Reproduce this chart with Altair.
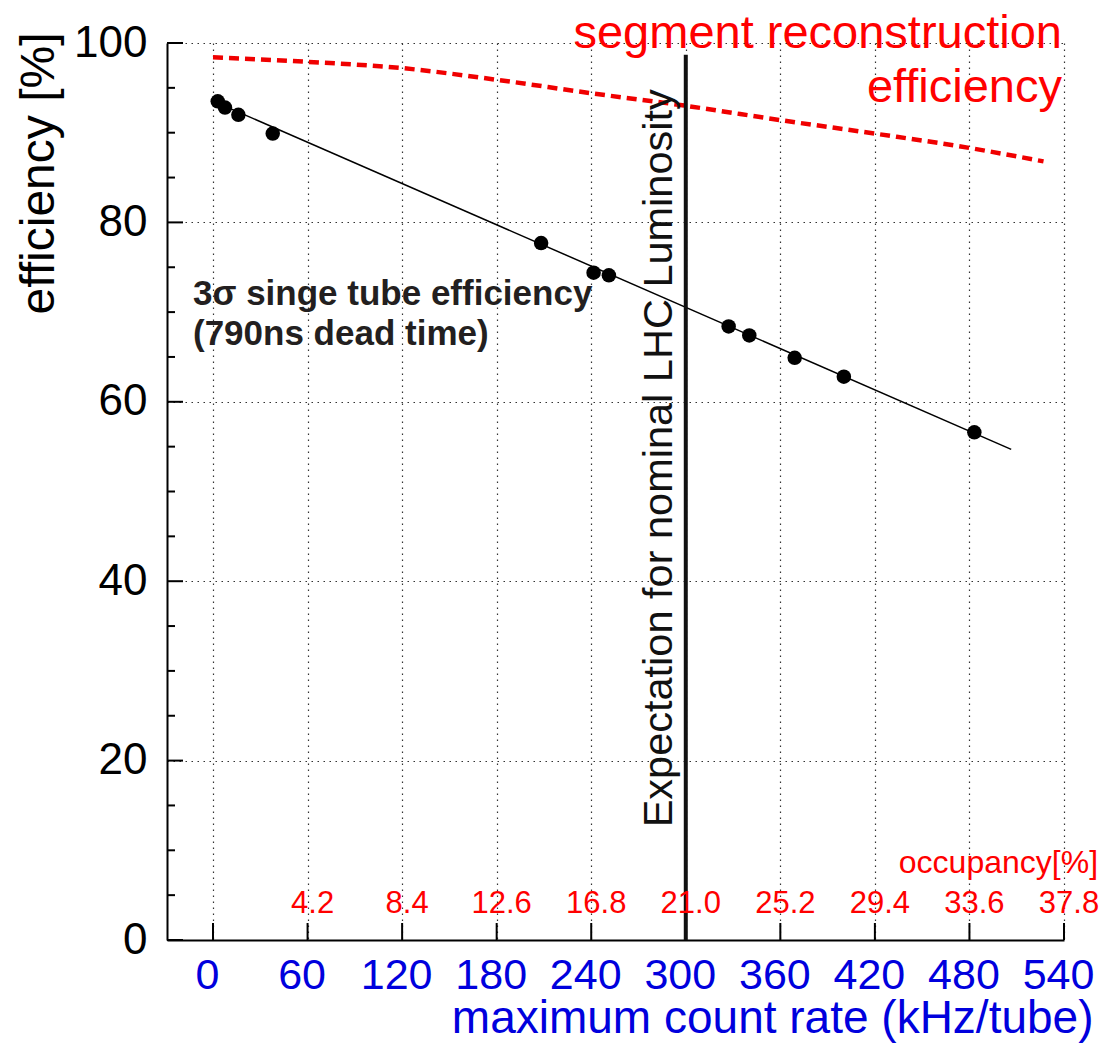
import altair as alt
import pandas as pd

# Measured single-tube efficiency vs. maximum count rate
rate_khz = [3.0, 7.6, 16.1, 37.9, 208.2, 241.5, 251.2, 327.2, 340.3, 369.1, 400.3, 483.1]
tube_eff = [93.5, 92.8, 92.0, 89.9, 77.7, 74.4, 74.1, 68.4, 67.4, 64.9, 62.8, 56.6]

# Straight-line fit through the measurements
fit_rate = [3.0, 506.5]
fit_eff = [93.3, 54.7]

# Segment reconstruction efficiency curve
seg_rate = [0, 60, 120, 180, 240, 300, 360, 420, 480, 527]
seg_eff = [98.4, 97.9, 97.2, 95.9, 94.4, 93.0, 91.4, 89.9, 88.3, 86.8]

# Axis ticks and the occupancy scale printed along the bottom
rate_ticks = [0, 60, 120, 180, 240, 300, 360, 420, 480, 540]
occ_rate = [60, 120, 180, 240, 300, 360, 420, 480, 540]
occ_labels = ["4.2", "8.4", "12.6", "16.8", "21.0", "25.2", "29.4", "33.6", "37.8"]
eff_major = [0, 20, 40, 60, 80, 100]
eff_minor = [5, 10, 15, 25, 30, 35, 45, 50, 55, 65, 70, 75, 85, 90, 95]

# Nominal LHC luminosity marker
nominal_rate = 300
nominal_top = 98.7

FONT = "Liberation Sans"
BLUE = "#0000dd"
RED = "#ff0000"
W, H = 897, 897

xscale = alt.Scale(domain=[-29.2, 540], nice=False, zero=False)
yscale = alt.Scale(domain=[0, 100], nice=False, zero=False)

X = alt.X(
    "x:Q",
    scale=xscale,
    title="maximum count rate (kHz/tube)",
    axis=alt.Axis(
        values=rate_ticks,
        ticks=False,
        tickSize=0,
        domainColor="black",
        domainWidth=2,
        grid=True,
        gridColor="#333333",
        gridDash=[1.5, 4.5],
        gridWidth=1.2,
        labelFont=FONT,
        labelFontSize=43,
        labelColor=BLUE,
        labelPadding=14,
        labelOffset=-6,
        labelOverlap=False,
        labelFlush=False,
        titleFont=FONT,
        titleFontSize=46,
        titleFontWeight="normal",
        titleColor=BLUE,
        titleAlign="right",
        titleBaseline="alphabetic",
        titleX=926,
        titleY=92,
    ),
)

Y = alt.Y(
    "y:Q",
    scale=yscale,
    title="efficiency [%]",
    axis=alt.Axis(
        values=eff_major,
        ticks=False,
        tickSize=0,
        domainColor="black",
        domainWidth=2,
        grid=True,
        gridColor="#333333",
        gridDash=[1.5, 4.5],
        gridWidth=1.2,
        labelFont=FONT,
        labelFontSize=44,
        labelColor="black",
        labelPadding=20,
        titleFont=FONT,
        titleFontSize=48,
        titleFontWeight="normal",
        titleColor="black",
        titleAngle=270,
        titleAlign="right",
        titleBaseline="alphabetic",
        titleX=-114,
        titleY=-11,
    ),
)

points_df = pd.DataFrame({"x": rate_khz, "y": tube_eff})
fit_df = pd.DataFrame({"x": fit_rate, "y": fit_eff})
seg_df = pd.DataFrame({"x": seg_rate, "y": seg_eff})
ymaj_df = pd.DataFrame({"y": eff_major})
ymin_df = pd.DataFrame({"y": eff_minor})
xtick_df = pd.DataFrame({"x": rate_ticks})
nominal_df = pd.DataFrame({"x": [nominal_rate], "y": [0], "y2": [nominal_top]})
occ_df = pd.DataFrame({"x": occ_rate, "y": [3.0] * len(occ_rate), "t": occ_labels})

# Inward tick marks on both axes
ymaj = alt.Chart(ymaj_df).mark_rule(color="black", strokeWidth=2).encode(
    y=Y, x=alt.value(0), x2=alt.value(16)
)
ymin = alt.Chart(ymin_df).mark_rule(color="black", strokeWidth=2).encode(
    y=Y, x=alt.value(0), x2=alt.value(8)
)
xt = alt.Chart(xtick_df).mark_rule(color="black", strokeWidth=2).encode(
    x=X, y=alt.value(H), y2=alt.value(H - 17)
)

seg_line = alt.Chart(seg_df).mark_line(
    color="#f00000", strokeWidth=4.5, strokeDash=[10, 6], interpolate="monotone"
).encode(x=X, y=Y)

fit_line = alt.Chart(fit_df).mark_line(color="black", strokeWidth=1.5).encode(x=X, y=Y)

pts = alt.Chart(points_df).mark_circle(color="black", opacity=1, size=210).encode(x=X, y=Y)

nominal = alt.Chart(nominal_df).mark_rule(color="#111111", strokeWidth=4).encode(
    x=X, y=Y, y2="y2:Q"
)

nominal_text = alt.Chart(
    pd.DataFrame({"x": [nominal_rate], "y": [53.7], "t": ["Expectation for nominal LHC Luminosity"]})
).mark_text(
    font=FONT, fontSize=41.5, color="#111111", angle=270,
    align="center", baseline="alphabetic", dy=-14,
).encode(x=X, y=Y, text="t:N")

occ_text = alt.Chart(occ_df).mark_text(
    font=FONT, fontSize=31, color=RED, align="center", baseline="alphabetic", dx=5
).encode(x=X, y=Y, text="t:N")

occ_title = alt.Chart(
    pd.DataFrame({"x": [561.6], "y": [7.47], "t": ["occupancy[%]"]})
).mark_text(
    font=FONT, fontSize=32, color=RED, align="right", baseline="alphabetic"
).encode(x=X, y=Y, text="t:N")

seg_title = alt.Chart(
    pd.DataFrame({"x": [540, 540], "y": [99.44, 93.4],
                  "t": ["segment reconstruction", "efficiency"]})
).mark_text(
    font=FONT, fontSize=47, color=RED, align="right", baseline="alphabetic", dx=-2
).encode(x=X, y=Y, text="t:N")

tube_title = alt.Chart(
    pd.DataFrame({"x": [-12.7, -12.7], "y": [70.8, 66.3],
                  "t": ["3σ singe tube efficiency", "(790ns dead time)"]})
).mark_text(
    font=FONT, fontSize=35, fontWeight="bold", color="#231f20",
    align="left", baseline="alphabetic"
).encode(x=X, y=Y, text="t:N")

chart = alt.layer(
    ymaj, ymin, xt, seg_line, fit_line, pts, nominal,
    nominal_text, occ_text, occ_title, seg_title, tube_title,
).properties(
    width=W,
    height=H,
    autosize=alt.AutoSizeParams(type="none"),
    padding={"left": 167, "top": 43, "right": 47, "bottom": 109},
    background="white",
).configure_view(stroke=None)

chart.save("out.html", embed_options={"renderer": "svg", "actions": False})
